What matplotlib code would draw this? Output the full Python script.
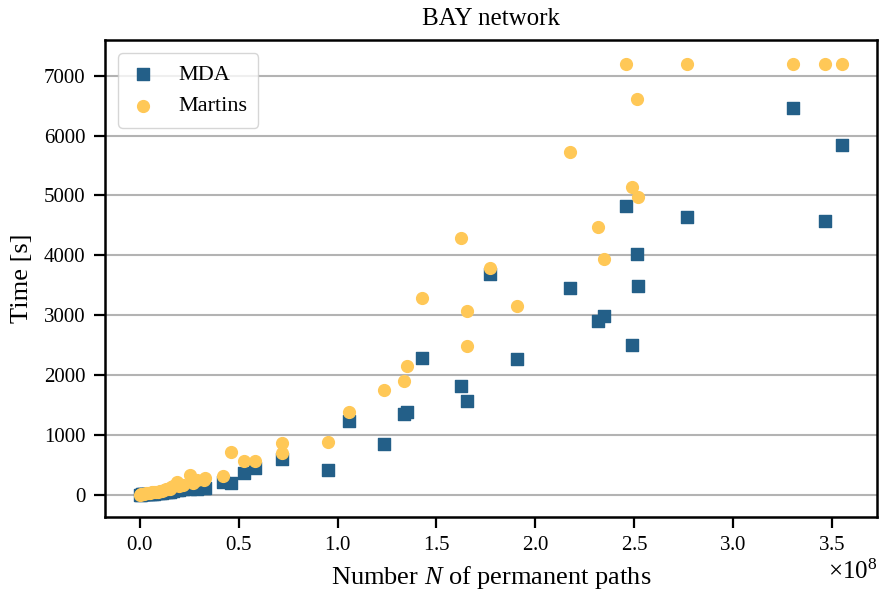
import numpy as np
import matplotlib
matplotlib.use("Agg")
import matplotlib.pyplot as plt
from matplotlib.ticker import ScalarFormatter

plt.rcParams['font.family'] = ['Liberation Serif', 'DejaVu Serif']
plt.rcParams['mathtext.fontset'] = 'custom'
plt.rcParams['mathtext.it'] = 'Liberation Serif:italic'
plt.rcParams['mathtext.rm'] = 'Liberation Serif'

# number of permanent paths per instance (units of 1e8)
n_paths = [0.002, 0.005, 0.01, 0.015, 0.02, 0.03, 0.04, 0.05, 0.06, 0.07,
           0.08, 0.09, 0.10, 0.11, 0.12, 0.13, 0.14, 0.15, 0.16, 0.17,
           0.186, 0.20, 0.22, 0.253, 0.27, 0.29, 0.322, 0.33, 0.42, 0.462,
           0.528, 0.582, 0.718, 0.951, 1.056, 1.234, 1.335, 1.352, 1.428, 1.622,
           1.656, 1.772, 1.907, 2.177, 2.317, 2.345, 2.460, 2.490, 2.514, 2.519,
           2.768, 3.305, 3.466, 3.551]
# runtimes [s]
mda_time = [2, 4, 6, 8, 10, 12, 14, 16, 18, 20,
            22, 25, 30, 32, 40, 45, 50, 55, 60, 65,
            75, 85, 95, 105, 110, 105, 112, 117, 222, 195,
            362, 440, 596, 418, 1225, 852, 1348, 1387, 2289, 1826,
            1570, 3692, 2272, 3447, 2907, 2979, 4828, 2501, 4026, 3491,
            4633, 6470, 4566, 5842]
martins_time = [4, 8, 12, 16, 20, 25, 30, 35, 40, 45,
                50, 55, 65, 70, 85, 90, 105, 100, 125, 140,
                210, 140, 170, 325, 200, 240, 250, 284, 320, 718,
                573, 573, 702, 890, 1381, 1749, 1899, 2155, 3280, 4282,
                2494, 3787, 3152, 5719, 4466, 3942, 7200, 5134, 6615, 4978,
                7200, 7200, 7200, 7200]
# a few extra Martins results at shared N values
martins_extra_n = [0.718, 1.656]
martins_extra_t = [864, 3074]

x = np.array(n_paths) * 1e8
x_extra = np.array(martins_extra_n) * 1e8

fig = plt.figure(figsize=(8.81, 5.94), dpi=100)
ax = fig.add_axes([0.119, 0.130, 0.8765, 0.803])

ax.scatter(x, mda_time, marker='s', s=64, color='#235f88', label='MDA', zorder=3)
ax.scatter(np.concatenate([x, x_extra]), martins_time + martins_extra_t,
           marker='o', s=72, color='#ffc857', label='Martins', zorder=4)

ax.set_xlim(-0.177e8, 3.728e8)
ax.set_ylim(-367, 7601)
ax.set_yticks(np.arange(0, 7001, 1000))
ax.set_xticks(np.arange(0, 3.51e8, 0.5e8))
fmt = ScalarFormatter(useMathText=True)
fmt.set_powerlimits((0, 0))
ax.xaxis.set_major_formatter(fmt)
ax.yaxis.set_major_formatter(ScalarFormatter())
ax.yaxis.grid(True, color='#b3b3b3', linewidth=1.5)
ax.set_axisbelow(True)

for sp in ax.spines.values():
    sp.set_linewidth(1.8)
ax.tick_params(axis='both', labelsize=15, width=1.6, length=8, pad=6)
ax.xaxis.get_offset_text().set_fontsize(18)

ax.set_xlabel(r'Number $N$ of permanent paths', fontsize=19, labelpad=6)
ax.set_ylabel('Time [s]', fontsize=19, labelpad=8)
ax.set_title('BAY network', fontsize=18, pad=11)
ax.legend(loc='upper left', fontsize=16, framealpha=0.8, borderpad=0.5,
          handlelength=1.2, handletextpad=1.0, borderaxespad=0.6)

fig.savefig('out.png', dpi=100)
